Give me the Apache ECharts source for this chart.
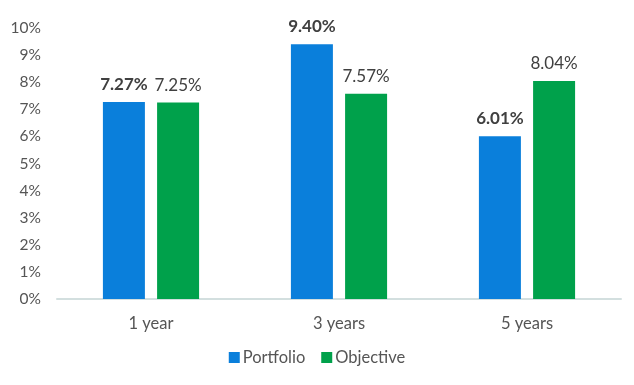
<!DOCTYPE html>
<html><head><meta charset="utf-8">
<script src="https://cdn.jsdelivr.net/npm/echarts@6/dist/echarts.min.js"></script>
<style>html,body{margin:0;padding:0;background:#fff}#c{width:634px;height:385px}</style>
</head><body><div id="c"></div>
<script>
const categories = ['1 year', '3 years', '5 years'];
const portfolio = [7.27, 9.40, 6.01];
const objective = [7.25, 7.57, 8.04];
const yTicks = [0, 1, 2, 3, 4, 5, 6, 7, 8, 9, 10];
const seriesNames = ['Portfolio', 'Objective'];

const chart = echarts.init(document.getElementById('c'));
const font = 'Lato, "Open Sans", sans-serif';
chart.setOption({
  animation: false,
  textStyle: { fontFamily: font },
  grid: { left: 57, right: 13, top: 28, bottom: 86 },
  legend: {
    bottom: 14, left: 'center', itemWidth: 11, itemHeight: 11, itemGap: 16,
    icon: 'rect',
    textStyle: { fontSize: 16.5, color: '#555', fontFamily: font, padding: [0, 0, 0, -2] },
    data: seriesNames
  },
  xAxis: {
    type: 'category', data: categories,
    axisLine: { lineStyle: { color: '#d3dfdf', width: 2 } },
    axisTick: { show: false },
    axisLabel: { fontSize: 16.5, color: '#555', margin: 16, fontFamily: font }
  },
  yAxis: {
    type: 'value', min: yTicks[0], max: yTicks[yTicks.length - 1], interval: 1,
    splitLine: { show: false },
    axisLine: { show: false }, axisTick: { show: false },
    axisLabel: { fontSize: 15.5, color: '#555', margin: 16, formatter: v => v + '%', fontFamily: font }
  },
  series: [
    {
      name: seriesNames[0], type: 'bar', data: portfolio, barWidth: 42, barGap: '29%',
      itemStyle: { color: '#0a7fdb' },
      label: { show: true, position: 'top', distance: 9, fontSize: 17, fontWeight: 'bold', color: '#404040', fontFamily: font,
        formatter: p => p.value.toFixed(2) + '%' }
    },
    {
      name: seriesNames[1], type: 'bar', data: objective, barWidth: 42,
      itemStyle: { color: '#00a14b' },
      label: { show: true, position: 'top', distance: 9, fontSize: 17, color: '#404040', fontFamily: font,
        formatter: p => p.value.toFixed(2) + '%' }
    }
  ]
});
</script></body></html>
